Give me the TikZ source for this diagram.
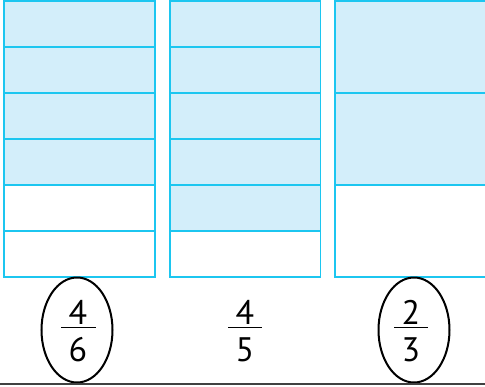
\documentclass[tikz,border=0pt]{standalone}
\usepackage{fontspec}
\setmainfont{PT Sans}
\usetikzlibrary{shapes.geometric}
\definecolor{cellline}{HTML}{1CC6F0}
\definecolor{cellfill}{HTML}{D3EEFA}
\tikzset{
  cellshade/.style={draw=cellline,fill=cellfill,line width=1.5pt},
  cellblank/.style={draw=cellline,fill=white,line width=1.5pt},
  digit/.style={inner sep=0pt,font=\fontsize{34}{34}\selectfont},
  ring/.style={draw=black,line width=2pt,ellipse,minimum width=71pt,minimum height=105pt,inner sep=0pt},
  bar/.style={line width=1pt}
}
\begin{document}
\begin{tikzpicture}[x=1pt,y=-1pt]
\useasboundingbox (0,0) rectangle (485,386);
% column 1: 6 rows, 4 shaded
\foreach \i in {0,...,3} \draw[cellshade] (4,{1+46*\i}) rectangle (155,{1+46*(\i+1)});
\foreach \i in {4,5} \draw[cellblank] (4,{1+46*\i}) rectangle (155,{1+46*(\i+1)});
% column 2: 6 rows, 5 shaded
\foreach \i in {0,...,4} \draw[cellshade] (170,{1+46*\i}) rectangle (320.5,{1+46*(\i+1)});
\foreach \i in {5} \draw[cellblank] (170,{1+46*\i}) rectangle (320.5,{1+46*(\i+1)});
% column 3: 3 rows, 2 shaded
\foreach \i in {0,1} \draw[cellshade] (335,{1+92*\i}) rectangle (495,{1+92*(\i+1)});
\draw[cellblank] (335,185) rectangle (495,277);
% fractions
\node[digit] (n1) at (78,312) {4};
\node[digit] (d1) at (78,350) {6};
\coordinate (b1l) at (61,327); \coordinate (b1r) at (96,327);
\draw[bar] (b1l) -- (b1r);
\node[ring] (e1) at (77,330) {};
\node[digit] (n2) at (245,312) {4};
\node[digit] (d2) at (245,350) {5};
\coordinate (b2l) at (228,327); \coordinate (b2r) at (262,327);
\draw[bar] (b2l) -- (b2r);
\node[digit] (n3) at (411,312) {2};
\node[digit] (d3) at (411,350) {3};
\coordinate (b3l) at (394,327); \coordinate (b3r) at (428,327);
\draw[bar] (b3l) -- (b3r);
\node[ring] (e3) at (414,330) {};
% baseline
\coordinate (gl) at (0,384); \coordinate (gr) at (485,384);
\draw[line width=2.5pt,draw=black!75] (gl) -- (gr);
\end{tikzpicture}
\end{document}
